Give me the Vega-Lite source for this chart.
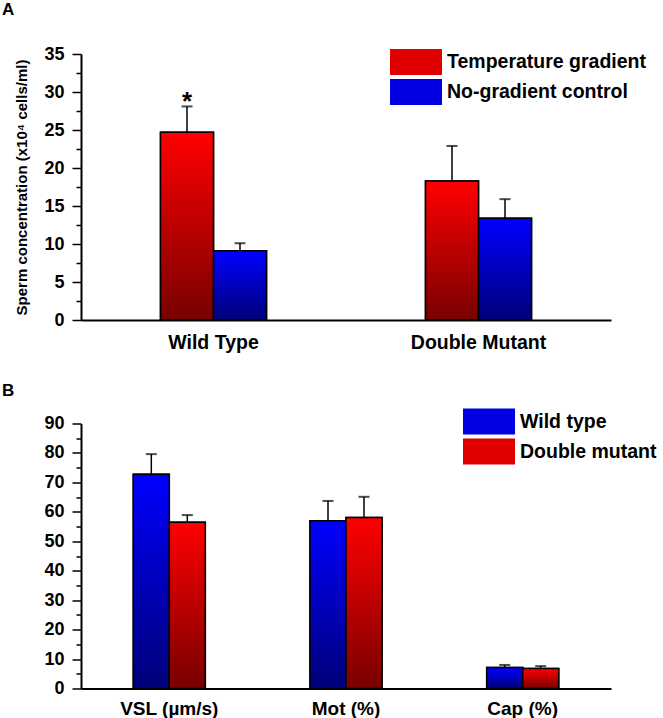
{
  "$schema": "https://vega.github.io/schema/vega-lite/v6.json",
  "padding": {"left": 2, "top": 1, "right": 0, "bottom": 0},
  "background": "white",
  "config": {
    "font": "Liberation Sans",
    "view": {"stroke": null},
    "axis": {"grid": false, "domainColor": "black", "domainWidth": 2, "tickColor": "black", "tickWidth": 1.5, "labelColor": "black", "labelFont": "Liberation Sans", "labelFontWeight": "bold", "labelFontSize": 18, "titleColor": "black"},
    "legend": {"labelFont": "Liberation Sans", "labelFontWeight": "bold", "labelFontSize": 19.5, "labelColor": "black", "labelLimit": 0}
  },
  "spacing": 29.5,
  "resolve": {"scale": {"fill": "independent", "x": "independent", "y": "independent", "xOffset": "independent"}, "legend": {"fill": "independent"}},
  "vconcat": [
    {
      "width": 530,
      "height": 266,
      "title": {"text": "A", "anchor": "start", "frame": "group", "dx": -79, "offset": 26, "fontSize": 17, "fontWeight": "bold", "font": "Liberation Sans", "color": "black"},
      "data": {"values": [
        {"strain": "Wild Type", "group": "Temperature gradient", "value": 24.7, "upper": 28.1, "sig": "*"},
        {"strain": "Wild Type", "group": "No-gradient control", "value": 9.1, "upper": 10.1, "sig": ""},
        {"strain": "Double Mutant", "group": "Temperature gradient", "value": 18.3, "upper": 22.9, "sig": ""},
        {"strain": "Double Mutant", "group": "No-gradient control", "value": 13.4, "upper": 15.9, "sig": ""}
      ]},
      "resolve": {"axis": {"y": "independent"}},
      "encoding": {
        "x": {"field": "strain", "type": "nominal", "sort": ["Wild Type", "Double Mutant"], "scale": {"paddingInner": 0.6, "paddingOuter": 0.3},
              "axis": {"title": null, "labelAngle": 0, "ticks": false, "labelPadding": 13, "labelFontSize": 19.5}},
        "xOffset": {"field": "group", "type": "nominal", "sort": ["Temperature gradient", "No-gradient control"], "scale": {"paddingInner": 0, "paddingOuter": 0}},
        "y": {"field": "value", "type": "quantitative", "scale": {"domain": [0, 35], "nice": false}, "axis": null}
      },
      "layer": [
        {
          "mark": {"type": "bar", "stroke": "black", "strokeWidth": 1.5},
          "encoding": {
            "y": {"field": "value", "type": "quantitative", "scale": {"domain": [0, 35], "nice": false},
                  "axis": {"orient": "left", "title": "Sperm concentration (x10⁴ cells/ml)", "titleFontSize": 15, "titleFontWeight": "bold", "titlePadding": 14,
                           "values": [0, 5, 10, 15, 20, 25, 30, 35], "labelOverlap": false, "tickSize": 9, "labelPadding": 8}},
            "fill": {"field": "group", "type": "nominal",
                     "scale": {"domain": ["Temperature gradient", "No-gradient control"], "range": ["#e00000", "#0000e0"]},
                     "legend": {"title": null, "orient": "none", "legendX": 321, "legendY": -6, "padding": 0,
                                "symbolType": "M-2,-1H2V1H-2Z", "symbolSize": 676, "symbolStrokeColor": "black", "symbolStrokeWidth": 1.5,
                                "symbolOpacity": 1,
                                "labelOffset": 17, "rowPadding": -8,
                                "encode": {"symbols": {"update": {"fill": [
                                  {"test": "datum.value === 'Temperature gradient'", "value": {"gradient": "linear", "x1": 0, "y1": 0, "x2": 0, "y2": 1, "stops": [{"offset": 0, "color": "#ff0000"}, {"offset": 1, "color": "#a00000"}]}},
                                  {"value": {"gradient": "linear", "x1": 0, "y1": 0, "x2": 0, "y2": 1, "stops": [{"offset": 0, "color": "#0000ff"}, {"offset": 1, "color": "#0000a0"}]}}
                                ]}}}}}
          }
        },
        {
          "mark": {"type": "bar", "stroke": "black", "strokeWidth": 1.5},
          "encoding": {
            "fill": {"condition": {"test": "datum.group === 'Temperature gradient'",
                                   "value": {"gradient": "linear", "x1": 0, "y1": 0, "x2": 0, "y2": 1, "stops": [{"offset": 0, "color": "#ff0000"}, {"offset": 1, "color": "#780000"}]}},
                     "value": {"gradient": "linear", "x1": 0, "y1": 0, "x2": 0, "y2": 1, "stops": [{"offset": 0, "color": "#0000ff"}, {"offset": 1, "color": "#000078"}]}}
          }
        },
        {
          "mark": {"type": "rule", "color": "black", "strokeWidth": 1.5},
          "encoding": {"y2": {"field": "upper"}}
        },
        {
          "mark": {"type": "tick", "color": "black", "orient": "horizontal", "size": 11, "thickness": 2},
          "encoding": {"y": {"field": "upper", "type": "quantitative",
                             "axis": {"orient": "left", "title": null, "values": [2.5, 7.5, 12.5, 17.5, 22.5, 27.5, 32.5], "labels": false, "domain": false, "tickSize": 5}}}
        },
        {
          "mark": {"type": "text", "fontSize": 26, "fontWeight": "bold", "baseline": "alphabetic", "dy": 4, "color": "black"},
          "encoding": {"y": {"field": "upper", "type": "quantitative", "axis": null}, "text": {"field": "sig"}}
        }
      ]
    },
    {
      "width": 530,
      "height": 265,
      "title": {"text": "B", "anchor": "start", "frame": "group", "dx": -79, "offset": 8, "fontSize": 17, "fontWeight": "bold", "font": "Liberation Sans", "color": "black"},
      "data": {"values": [
        {"measure": "VSL (µm/s)", "group": "Wild type", "value": 72.8, "upper": 79.6},
        {"measure": "VSL (µm/s)", "group": "Double mutant", "value": 56.5, "upper": 58.9},
        {"measure": "Mot (%)", "group": "Wild type", "value": 57.0, "upper": 63.7},
        {"measure": "Mot (%)", "group": "Double mutant", "value": 58.1, "upper": 65.1},
        {"measure": "Cap (%)", "group": "Wild type", "value": 7.1, "upper": 8.0},
        {"measure": "Cap (%)", "group": "Double mutant", "value": 6.8, "upper": 7.6}
      ]},
      "resolve": {"axis": {"y": "independent"}},
      "encoding": {
        "x": {"field": "measure", "type": "nominal", "sort": ["VSL (µm/s)", "Mot (%)", "Cap (%)"], "scale": {"paddingInner": 0.5925, "paddingOuter": 0.296},
              "axis": {"title": null, "labelAngle": 0, "ticks": false, "labelPadding": 10.5, "labelFontSize": 19}},
        "xOffset": {"field": "group", "type": "nominal", "sort": ["Wild type", "Double mutant"], "scale": {"paddingInner": 0, "paddingOuter": 0}},
        "y": {"field": "value", "type": "quantitative", "scale": {"domain": [0, 90], "nice": false}, "axis": null}
      },
      "layer": [
        {
          "mark": {"type": "bar", "stroke": "black", "strokeWidth": 1.5},
          "encoding": {
            "y": {"field": "value", "type": "quantitative", "scale": {"domain": [0, 90], "nice": false},
                  "axis": {"orient": "left", "title": null, "minExtent": 66,
                           "values": [0, 10, 20, 30, 40, 50, 60, 70, 80, 90], "labelOverlap": false, "tickSize": 9, "labelPadding": 8}},
            "fill": {"field": "group", "type": "nominal",
                     "scale": {"domain": ["Wild type", "Double mutant"], "range": ["#0000e0", "#e00000"]},
                     "legend": {"title": null, "orient": "none", "legendX": 394, "legendY": -16, "padding": 0,
                                "symbolType": "M-2,-1H2V1H-2Z", "symbolSize": 676, "symbolStrokeColor": "black", "symbolStrokeWidth": 1.5,
                                "symbolOpacity": 1,
                                "labelOffset": 17, "rowPadding": -4.5,
                                "encode": {"symbols": {"update": {"fill": [
                                  {"test": "datum.value === 'Double mutant'", "value": {"gradient": "linear", "x1": 0, "y1": 0, "x2": 0, "y2": 1, "stops": [{"offset": 0, "color": "#ff0000"}, {"offset": 1, "color": "#a00000"}]}},
                                  {"value": {"gradient": "linear", "x1": 0, "y1": 0, "x2": 0, "y2": 1, "stops": [{"offset": 0, "color": "#0000ff"}, {"offset": 1, "color": "#0000a0"}]}}
                                ]}}}}}
          }
        },
        {
          "mark": {"type": "bar", "stroke": "black", "strokeWidth": 1.5},
          "encoding": {
            "fill": {"condition": {"test": "datum.group === 'Double mutant'",
                                   "value": {"gradient": "linear", "x1": 0, "y1": 0, "x2": 0, "y2": 1, "stops": [{"offset": 0, "color": "#ff0000"}, {"offset": 1, "color": "#780000"}]}},
                     "value": {"gradient": "linear", "x1": 0, "y1": 0, "x2": 0, "y2": 1, "stops": [{"offset": 0, "color": "#0000ff"}, {"offset": 1, "color": "#000078"}]}}
          }
        },
        {
          "mark": {"type": "rule", "color": "black", "strokeWidth": 1.5},
          "encoding": {"y2": {"field": "upper"}}
        },
        {
          "mark": {"type": "tick", "color": "black", "orient": "horizontal", "size": 11, "thickness": 2},
          "encoding": {"y": {"field": "upper", "type": "quantitative",
                             "axis": {"orient": "left", "title": null, "values": [5, 15, 25, 35, 45, 55, 65, 75, 85], "labels": false, "domain": false, "tickSize": 5}}}
        }
      ]
    }
  ]
}
